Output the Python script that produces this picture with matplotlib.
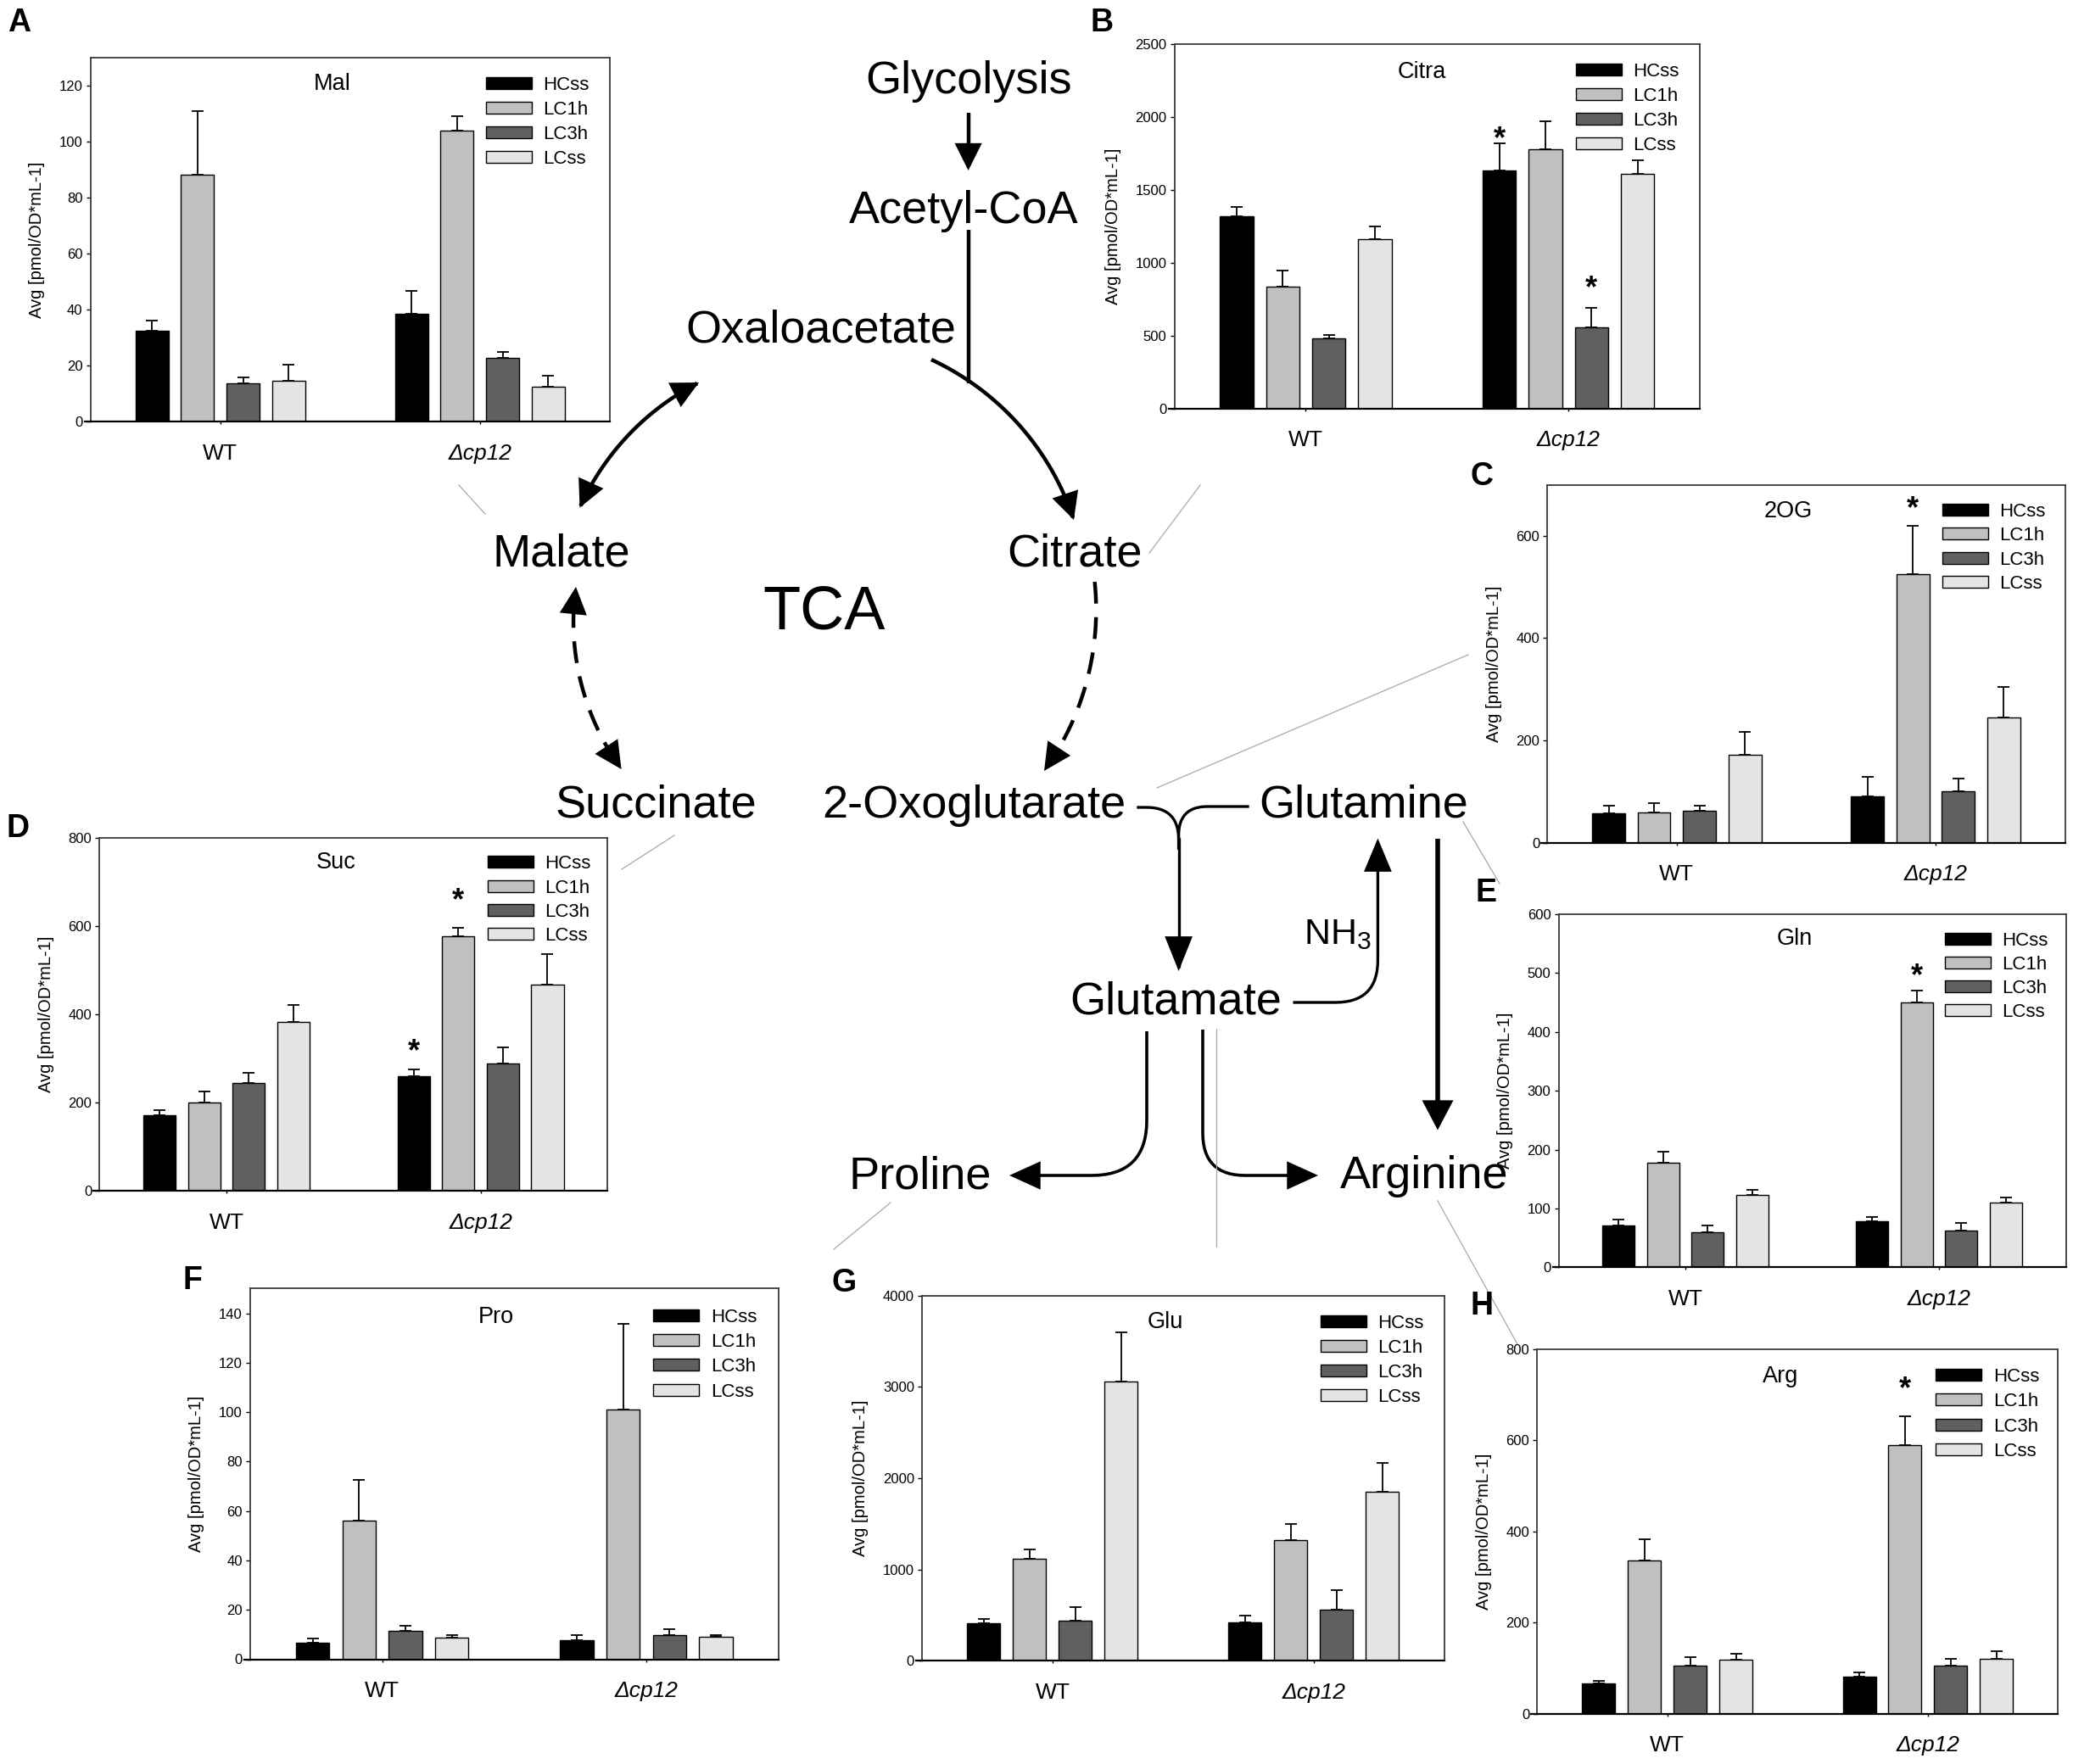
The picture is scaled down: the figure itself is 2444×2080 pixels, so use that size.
import numpy as np
import matplotlib
matplotlib.use('Agg')
import matplotlib.pyplot as plt
from matplotlib.patches import FancyArrowPatch, Rectangle
from matplotlib.path import Path

plt.rcParams['font.family'] = ['Liberation Sans', 'DejaVu Sans']

# ---------------- data ----------------
conditions = ['HCss', 'LC1h', 'LC3h', 'LCss']
genotypes = ['WT', 'Δcp12']
bar_colors = ['#000000', '#c0c0c0', '#606060', '#e4e4e4']
ylabel_text = 'Avg [pmol/OD*mL-1]'

mal_wt = [32.4, 88.1, 13.7, 14.4]
mal_wt_sd = [3.7, 22.9, 2.0, 5.9]
mal_cp12 = [38.5, 103.9, 22.7, 12.3]
mal_cp12_sd = [8.0, 5.1, 2.2, 4.0]
mal_stars = []

citra_wt = [1318, 837, 477, 1162]
citra_wt_sd = [64, 110, 26, 84]
citra_cp12 = [1631, 1775, 553, 1611]
citra_cp12_sd = [188, 194, 134, 88]
citra_stars = [(1, 0, 1909), (1, 2, 887)]

og_wt = [58, 59, 63, 172]
og_wt_sd = [14, 18, 9, 45]
og_cp12 = [90, 525, 100, 245]
og_cp12_sd = [38, 94, 25, 59]
og_stars = [(1, 1, 670)]

suc_wt = [172, 201, 244, 384]
suc_wt_sd = [12, 25, 23, 37]
suc_cp12 = [260, 577, 288, 468]
suc_cp12_sd = [15, 19, 37, 69]
suc_stars = [(1, 0, 336), (1, 1, 678)]

gln_wt = [71, 178, 60, 123]
gln_wt_sd = [10, 19, 11, 8]
gln_cp12 = [78, 450, 63, 110]
gln_cp12_sd = [7, 21, 12, 9]
gln_stars = [(1, 1, 511)]

pro_wt = [6.6, 56.0, 11.5, 8.6]
pro_wt_sd = [1.7, 16.5, 1.9, 1.3]
pro_cp12 = [7.6, 100.9, 9.9, 9.1]
pro_cp12_sd = [2.3, 34.8, 2.2, 0.7]
pro_stars = []

glu_wt = [416, 1120, 437, 3058]
glu_wt_sd = [39, 103, 150, 544]
glu_cp12 = [423, 1323, 562, 1849]
glu_cp12_sd = [75, 177, 210, 316]
glu_stars = []

arg_wt = [66, 337, 105, 119]
arg_wt_sd = [7, 45, 20, 12]
arg_cp12 = [81, 590, 105, 121]
arg_cp12_sd = [9, 62, 15, 17]
arg_stars = [(1, 1, 731)]

# ---------------- layout ----------------
W, H = 2444, 2080
fig = plt.figure(figsize=(W / 100, H / 100), dpi=100)
bg = fig.add_axes([0, 0, 1, 1], zorder=0)
bg.set_xlim(0, W)
bg.set_ylim(H, 0)
bg.axis('off')

panels = [
    dict(letter='A', lpos=(23, 24), title='Mal', tpos=(392, 96), box=(106.6, 67.8, 718.8, 497),
         ymax=130, ytop=120, ystep=20, leg=(573, 98, 29.0),
         wt=mal_wt, wt_sd=mal_wt_sd, cp=mal_cp12, cp_sd=mal_cp12_sd, stars=mal_stars),
    dict(letter='B', lpos=(1299, 24), title='Citra', tpos=(1676, 82), box=(1384.5, 51.7, 2004, 481.5),
         ymax=2500, ytop=2500, ystep=500, leg=(1858, 81.6, 29.0),
         wt=citra_wt, wt_sd=citra_wt_sd, cp=citra_cp12, cp_sd=citra_cp12_sd, stars=citra_stars),
    dict(letter='C', lpos=(1747, 559), title='2OG', tpos=(2108, 600), box=(1824.3, 571.5, 2434.5, 993.6),
         ymax=700, ytop=600, ystep=200, leg=(2290, 600.7, 28.4),
         wt=og_wt, wt_sd=og_wt_sd, cp=og_cp12, cp_sd=og_cp12_sd, stars=og_stars),
    dict(letter='D', lpos=(21, 974), title='Suc', tpos=(396, 1015), box=(117.3, 988.1, 716.4, 1404.3),
         ymax=800, ytop=800, ystep=200, leg=(575, 1016.3, 28.3),
         wt=suc_wt, wt_sd=suc_wt_sd, cp=suc_cp12, cp_sd=suc_cp12_sd, stars=suc_stars),
    dict(letter='E', lpos=(1752, 1050), title='Gln', tpos=(2116, 1105), box=(1837.6, 1078.1, 2435.5, 1494.3),
         ymax=600, ytop=600, ystep=100, leg=(2293, 1107, 28.1),
         wt=gln_wt, wt_sd=gln_wt_sd, cp=gln_cp12, cp_sd=gln_cp12_sd, stars=gln_stars),
    dict(letter='F', lpos=(227, 1507), title='Pro', tpos=(585, 1550), box=(294.9, 1519.4, 917.7, 1956.5),
         ymax=150, ytop=140, ystep=20, leg=(770.4, 1550.8, 29.3),
         wt=pro_wt, wt_sd=pro_wt_sd, cp=pro_cp12, cp_sd=pro_cp12_sd, stars=pro_stars),
    dict(letter='G', lpos=(995, 1510), title='Glu', tpos=(1374, 1556), box=(1087, 1527.8, 1702.6, 1958.4),
         ymax=4000, ytop=4000, ystep=1000, leg=(1557, 1557.7, 29.2),
         wt=glu_wt, wt_sd=glu_wt_sd, cp=glu_cp12, cp_sd=glu_cp12_sd, stars=glu_stars),
    dict(letter='H', lpos=(1747, 1537), title='Arg', tpos=(2099, 1620), box=(1812.3, 1590.6, 2426.4, 2020.8),
         ymax=800, ytop=800, ystep=200, leg=(2282.3, 1621, 29.4),
         wt=arg_wt, wt_sd=arg_wt_sd, cp=arg_cp12, cp_sd=arg_cp12_sd, stars=arg_stars),
]

offsets = (np.arange(4) - 1.5) * 0.1755
bw = 0.127
xg = np.arange(len(genotypes))

for p in panels:
    l, t, r, b = p['box']
    ax = fig.add_axes([l / W, 1 - b / H, (r - l) / W, (b - t) / H], facecolor='none', zorder=2)
    for k in range(len(conditions)):
        means = np.array([p['wt'][k], p['cp'][k]])
        sds = np.array([p['wt_sd'][k], p['cp_sd'][k]])
        ax.bar(xg + offsets[k], means, width=bw, color=bar_colors[k], edgecolor='black',
               linewidth=1.0, zorder=2)
        ax.errorbar(xg + offsets[k], means, yerr=[np.zeros(2), sds], fmt='none', ecolor='black',
                    elinewidth=1.3, capsize=5, capthick=1.3, zorder=3)
    for (g, k, ys) in p['stars']:
        ax.annotate('*', xy=(g + offsets[k], ys), xytext=(0, -0.58 * 26), textcoords='offset points',
                    ha='center', va='baseline', fontsize=26, fontweight='bold', zorder=4)
    ax.set_xlim(-0.5, 1.5)
    ax.set_ylim(0, p['ymax'])
    ax.set_yticks(np.arange(0, p['ytop'] + 1, p['ystep']))
    ax.set_xticks(xg)
    ax.set_xticklabels(genotypes)
    ax.get_xticklabels()[1].set_fontstyle('italic')
    ax.tick_params(axis='y', direction='out', length=3.6, width=1, labelsize=12, pad=3)
    ax.tick_params(axis='x', direction='out', length=2.5, width=1, labelsize=19, pad=16)
    ax.set_ylabel(ylabel_text, fontsize=14.5, labelpad=12)
    for s in ['left', 'top', 'right']:
        ax.spines[s].set_color('#3a3a3a')
        ax.spines[s].set_linewidth(1.3)
    ax.spines['bottom'].set_color('black')
    ax.spines['bottom'].set_linewidth(1.6)
    # x axis line runs a little past the left spine, as in the original
    ext = 7.0 / (r - l)
    ax.plot([-ext, 0], [0, 0], transform=ax.transAxes, color='black', lw=1.6, clip_on=False)

    # panel letter, title, legend (figure pixel coordinates)
    bg.text(p['lpos'][0], p['lpos'][1] + 13.4, p['letter'], fontsize=27, fontweight='bold',
            ha='center', va='baseline')
    bg.text(p['tpos'][0], p['tpos'][1] + 9.5, p['title'], fontsize=19.5, ha='center', va='baseline')
    lx, ly, dy = p['leg']
    for k, name in enumerate(conditions):
        yc = ly + k * dy
        bg.add_patch(Rectangle((lx, yc - 7), 54, 14, facecolor=bar_colors[k], edgecolor='black',
                               linewidth=1.0))
        bg.text(lx + 67.5, yc + 8, name, fontsize=16, ha='left', va='baseline')

# ---------------- pathway diagram ----------------
path_labels = [
    ('Glycolysis', 1142, 110, 39), ('Acetyl-CoA', 1136, 263, 39), ('Oxaloacetate', 968, 404, 39),
    ('Malate', 662, 668, 39), ('Citrate', 1267, 668, 39), ('TCA', 972, 741, 52),
    ('Succinate', 773, 964, 39), ('2-Oxoglutarate', 1148, 964, 39), ('Glutamine', 1608, 964, 39),
    ('Glutamate', 1386, 1195, 39), ('Proline', 1085, 1401, 39), ('Arginine', 1679, 1401, 39),
]
for s, x, y, fs in path_labels:
    bg.text(x, y, s, fontsize=fs, ha='center', va='baseline')
bg.text(1537, 1113, r'NH$_\mathregular{3}$', fontsize=31, ha='left', va='baseline')

C0 = (968, 718)


def arc_pts(p0, p1, c=C0, n=80):
    a0 = np.arctan2(p0[1] - c[1], p0[0] - c[0])
    a1 = np.arctan2(p1[1] - c[1], p1[0] - c[0])
    da = (a1 - a0 + np.pi) % (2 * np.pi) - np.pi
    r0 = np.hypot(p0[0] - c[0], p0[1] - c[1])
    r1 = np.hypot(p1[0] - c[0], p1[1] - c[1])
    tt = np.linspace(0, 1, n)
    a = a0 + da * tt
    rr = r0 + (r1 - r0) * tt
    return np.column_stack([c[0] + rr * np.cos(a), c[1] + rr * np.sin(a)])


def rounded(pts, r, n=16):
    pts = [np.array(q, float) for q in pts]
    out = [pts[0]]
    for i in range(1, len(pts) - 1):
        p0, p1, p2 = pts[i - 1], pts[i], pts[i + 1]
        d1 = (p1 - p0) / np.linalg.norm(p1 - p0)
        d2 = (p2 - p1) / np.linalg.norm(p2 - p1)
        a = p1 - d1 * r
        b = p1 + d2 * r
        for tt in np.linspace(0, 1, n):
            out.append((1 - tt) ** 2 * a + 2 * (1 - tt) * tt * p1 + tt ** 2 * b)
    out.append(pts[-1])
    return np.array(out)


def arrow(pts, style='-|>', lw=3.2, hl=18, hw=8):
    st = '%s,head_length=%g,head_width=%g' % (style, hl, hw)
    a = FancyArrowPatch(path=Path(np.asarray(pts)), arrowstyle=st, mutation_scale=1, lw=lw,
                        color='black', transform=bg.transData, capstyle='butt', joinstyle='miter')
    bg.add_patch(a)


def head_at(pts, lw=3.2, hl=18, hw=8):
    pts = np.asarray(pts)
    tip = pts[-1]
    L = hl * 1.389
    d = np.hypot(*(pts - tip).T)
    idx = np.where(d >= L)[0][-1]
    arrow([pts[idx], tip], lw=lw, hl=hl, hw=hw)


# Glycolysis -> Acetyl-CoA
arrow([(1141.6, 133), (1141.6, 201)], lw=3.2, hl=18, hw=9)
# Acetyl-CoA joins the cycle
bg.plot([1141.6, 1141.6], [271, 452], color='black', lw=3.2, solid_capstyle='butt')
# Oxaloacetate -> Citrate
arrow(arc_pts((1098, 424), (1266, 613)), lw=3.2, hl=18, hw=9)
# Malate <-> Oxaloacetate
arrow(arc_pts((683.5, 598.6), (824, 451)), style='<|-|>', lw=3.2, hl=18, hw=9)
# Citrate -> 2-Oxoglutarate (dashed)
arcA = arc_pts((1290.6, 686), (1231, 909))
bg.plot(arcA[:-8, 0], arcA[:-8, 1], color='black', lw=3.2, ls=(0, (5.8, 3.6)), dash_capstyle='butt')
head_at(arcA, lw=3.2, hl=18, hw=9)
# Malate <-> Succinate (dashed)
arcB = arc_pts((679, 692), (732.6, 907))
bg.plot(arcB[8:-8, 0], arcB[8:-8, 1], color='black', lw=3.2, ls=(0, (5.8, 3.6)), dash_capstyle='butt')
head_at(arcB, lw=3.2, hl=18, hw=9)
head_at(arcB[::-1], lw=3.2, hl=18, hw=9)

# 2-Oxoglutarate + Glutamine -> Glutamate
bg.plot(*rounded([(1342, 952), (1389.6, 952), (1389.6, 1000)], 38).T, color='black', lw=2.4)
bg.plot(*rounded([(1471, 951), (1389.6, 951), (1389.6, 1000)], 34).T, color='black', lw=2.4)
arrow([(1389.6, 988), (1389.6, 1145)], lw=2.4, hl=25, hw=10)
# Glutamate -> Glutamine (NH3)
arrow(rounded([(1524.5, 1182), (1624.4, 1182), (1624.4, 988.5)], 50), lw=2.4, hl=24, hw=10)
# Glutamine -> Arginine
arrow([(1695, 988.5), (1695, 1332.5)], lw=4.0, hl=19, hw=10)
# Glutamate -> Proline
arrow(rounded([(1352, 1216), (1352, 1386), (1190, 1386)], 65), lw=2.6, hl=22, hw=10)
# Glutamate -> Arginine
arrow(rounded([(1418, 1214), (1418, 1386), (1554, 1386)], 50), lw=2.6, hl=22, hw=10)

# thin grey connector lines between metabolites and panels
connectors = [
    ((541, 572), (572, 606)), ((1415, 572), (1355, 652)), ((1364, 929), (1731, 772)),
    ((1725, 969), (1768, 1042)), ((733, 1025), (795, 985)), ((1050, 1418), (983, 1473)),
    ((1434, 1213), (1434, 1470)), ((1695, 1416), (1789, 1585)),
]
for (x0, y0), (x1, y1) in connectors:
    bg.plot([x0, x1], [y0, y1], color='#a8a8a8', lw=0.9)

fig.savefig('out.png', dpi=100)
